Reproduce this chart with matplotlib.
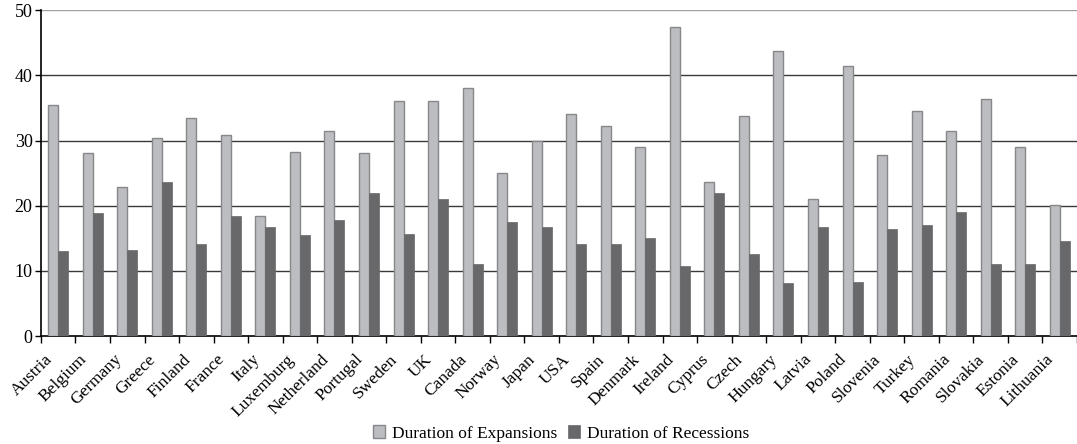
import numpy as np
import matplotlib.pyplot as plt
import matplotlib.transforms as mtransforms

countries = ['Austria', 'Belgium', 'Germany', 'Greece', 'Finland', 'France', 'Italy',
             'Luxemburg', 'Netherland', 'Portugal', 'Sweden', 'UK', 'Canada', 'Norway',
             'Japan', 'USA', 'Spain', 'Denmark', 'Ireland', 'Cyprus', 'Czech', 'Hungary',
             'Latvia', 'Poland', 'Slovenia', 'Turkey', 'Romania', 'Slovakia', 'Estonia',
             'Lithuania']
expansions = [35.5, 28.1, 22.8, 30.4, 33.4, 30.8, 18.4, 28.3, 31.5, 28.1, 36.0, 36.0,
              38.1, 25.0, 29.9, 34.1, 32.3, 29.0, 47.4, 23.6, 33.7, 43.7, 21.1, 41.4,
              27.8, 34.5, 31.5, 36.4, 29.0, 20.1]
recessions = [13.0, 18.9, 13.2, 23.7, 14.2, 18.5, 16.7, 15.5, 17.8, 22.0, 15.7, 21.1,
              11.1, 17.5, 16.7, 14.1, 14.2, 15.0, 10.8, 22.0, 12.6, 8.1, 16.8, 8.3,
              16.4, 17.1, 19.0, 11.1, 11.1, 14.6]
yticks = [0, 10, 20, 30, 40, 50]


def main():
    plt.rcParams['font.family'] = ['Liberation Serif', 'DejaVu Serif']
    fig = plt.figure(figsize=(10.77, 4.44), dpi=100)
    ax = fig.add_axes([0.038, 0.243, 0.962, 0.734])

    x = np.arange(len(countries))
    w = 0.29
    ax.bar(x - w / 2, expansions, w, color='#bcbdc1', edgecolor='#88888a',
           linewidth=1.0, label='Duration of Expansions', zorder=3)
    ax.bar(x + w / 2, recessions, w, color='#68686a', edgecolor='#68686a',
           linewidth=0.5, label='Duration of Recessions', zorder=3)

    ax.set_xlim(-0.5, len(countries) - 0.5)
    ax.set_ylim(0, 50)
    ax.set_yticks(yticks)
    ax.tick_params(axis='y', labelsize=13, length=4, width=1, direction='out', pad=2)
    for v in yticks[1:-1]:
        ax.axhline(v, color='#3a3a3a', linewidth=1.0, zorder=1)
    ax.axhline(50, color='#a0a0a0', linewidth=1.0, zorder=1)

    ax.set_xticks(x)
    ax.set_xticklabels(countries, rotation=45, ha='right', rotation_mode='anchor',
                       fontsize=12.5)
    ax.tick_params(axis='x', which='major', length=0, pad=11)
    shift = mtransforms.ScaledTranslation(-14 / 100, 0, fig.dpi_scale_trans)
    for lab in ax.get_xticklabels():
        lab.set_transform(lab.get_transform() + shift)
    ax.set_xticks(np.arange(len(countries) + 1) - 0.5, minor=True)
    ax.tick_params(axis='x', which='minor', length=5, width=1, direction='out')

    for s in ['top', 'right']:
        ax.spines[s].set_visible(False)
    ax.spines['left'].set_linewidth(1.2)
    ax.spines['bottom'].set_linewidth(1.2)

    ax.legend(loc='lower center', bbox_to_anchor=(0.502, -0.345), ncol=2, frameon=False,
              fontsize=12.5, handlelength=0.7, handleheight=0.7, handletextpad=0.4,
              columnspacing=0.6, borderaxespad=0)

    plt.savefig('out.png', dpi=100)


if __name__ == '__main__':
    main()
